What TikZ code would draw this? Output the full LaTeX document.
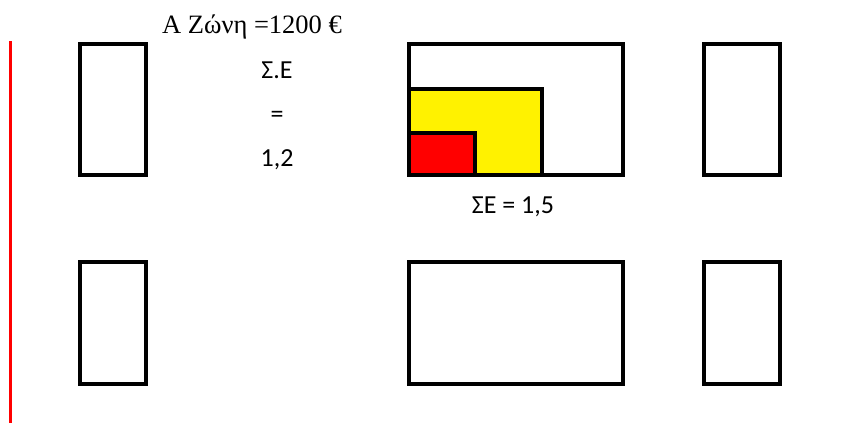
\documentclass[tikz,border=0pt]{standalone}
\usepackage{fontspec}
\setmainfont{Liberation Serif}
\newfontfamily\calibri{Carlito}
\usepackage{tikz}
\usetikzlibrary{positioning}

\begin{document}
\begin{tikzpicture}[x=1pt, y=-1pt,
      boxframe/.style={draw=black, line width=3.5pt, inner sep=0pt},
      tallbox/.style={boxframe, minimum height=131pt},
      lowbox/.style={boxframe, minimum height=122pt},
      zonelbl/.style={font=\fontsize{26.5}{30}\selectfont, anchor=base},
      selbl/.style={font=\calibri\fontsize{26}{30}\selectfont, anchor=base}
    ]
      \useasboundingbox (0,0) rectangle (847,423);

      % red margin line
      \coordinate (rtop) at (10.5,41);
      \coordinate (rbot) at (10.5,423);
      \draw[red, line width=3pt] (rtop) -- (rbot);

      % Row 1: top boxes
      \node[tallbox, minimum width=66pt] (tl) at (113,109.5) {};
      \node[tallbox, minimum width=214pt] (tm) at (516,109.5) {};
      \node[tallbox, minimum width=76pt] (tr) at (742,109.5) {};

      % filled parts inside the middle box
      \node[boxframe, fill=yellow, minimum width=133pt, minimum height=86pt, anchor=south west] (yel) at (tm.south west) {};
      \node[boxframe, fill=red, minimum width=66pt, minimum height=42pt, anchor=south west] (rd) at (tm.south west) {};

      % Row 2: bottom boxes
      \node[lowbox, minimum width=66pt] (bl) at (113,323) {};
      \node[lowbox, minimum width=214pt] (bm) at (516,323) {};
      \node[lowbox, minimum width=76pt] (br) at (742,323) {};

      % texts
      \node[zonelbl] (zone) at (252,33) {A Ζώνη =1200 €};
      \node[selbl] (se1) at (277,78) {Σ.Ε};
      \node[selbl] (se2) at (277,122) {=};
      \node[selbl] (se3) at (277,166) {1,2};
      \node[selbl] (se4) at (513,213) {ΣΕ = 1,5};
    \end{tikzpicture}
\end{document}
